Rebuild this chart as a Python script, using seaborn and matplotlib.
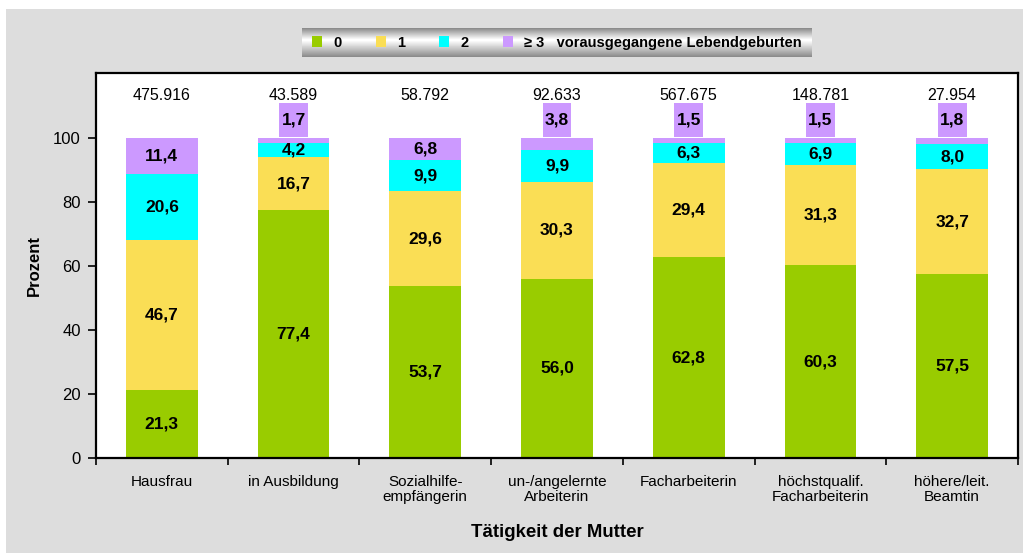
"""
Lebendgeburten nach Taetigkeit der Mutter
- gestapelte Balken (Prozent) mit Fallzahlen oben
"""

import numpy as np
import pandas as pd
import matplotlib.pyplot as plt
import seaborn as sns
from matplotlib.patches import Rectangle, Patch

# Daten
categories = ["Hausfrau", "in Ausbildung", "Sozialhilfe-\nempfängerin",
              "un-/angelernte\nArbeiterin", "Facharbeiterin",
              "höchstqualif.\nFacharbeiterin", "höhere/leit.\nBeamtin"]
totals = ["475.916", "43.589", "58.792", "92.633", "567.675", "148.781", "27.954"]
births_0 = [21.3, 77.4, 53.7, 56.0, 62.8, 60.3, 57.5]
births_1 = [46.7, 16.7, 29.6, 30.3, 29.4, 31.3, 32.7]
births_2 = [20.6, 4.2, 9.9, 9.9, 6.3, 6.9, 8.0]
births_3plus = [11.4, 1.7, 6.8, 3.8, 1.5, 1.5, 1.8]
series_names = ["0", "1", "2", "≥ 3   vorausgegangene Lebendgeburten"]
colors = ["#99CC00", "#FADE55", "#00FFFF", "#CC99FF"]

W, H = 1023, 553

sns.set_style("ticks")
plt.rcParams['font.family'] = ['Liberation Sans', 'DejaVu Sans']
for key in ["text.color", "axes.labelcolor", "xtick.color", "ytick.color"]:
    plt.rcParams[key] = "black"

df = pd.DataFrame({"0": births_0, "1": births_1, "2": births_2, "3": births_3plus},
                  index=categories)
cum = df.cumsum(axis=1)

fig = plt.figure(figsize=(W / 100, H / 100), dpi=100, facecolor="white")
# grauer Hintergrund wie im Original
fig.patches.append(Rectangle((6 / W, 0), 1, (H - 9) / H, transform=fig.transFigure,
                             facecolor="#DDDDDD", edgecolor="none", zorder=-10))

ax = fig.add_axes([96 / W, (H - 458) / H, (1018 - 96) / W, (458 - 73) / H])
ax.set_facecolor("white")

# von oben nach unten zeichnen, damit die Stapel entstehen
for col, color in zip(reversed(df.columns), reversed(colors)):
    plot_df = pd.DataFrame({"cat": categories, "val": cum[col].values})
    sns.barplot(data=plot_df, x="cat", y="val", order=categories, color=color,
                saturation=1, width=0.545, errorbar=None, edgecolor="none",
                linewidth=0, ax=ax)

# Beschriftungen
for j, col in enumerate(df.columns):
    for i, cat in enumerate(categories):
        v = df.loc[cat, col]
        top = cum.loc[cat, col]
        label = f"{v:.1f}".replace(".", ",")
        if col == "3" and v < 5:
            ax.add_patch(Rectangle((i - 0.11, 100.4), 0.22, 10.6,
                                   facecolor=colors[3], edgecolor="none", zorder=3))
            ax.text(i, 105.7, label, ha="center", va="center", fontsize=12.5,
                    fontweight="bold", zorder=4)
        else:
            ax.text(i, top - v / 2, label, ha="center", va="center", fontsize=12.5,
                    fontweight="bold", zorder=4)

for i, t in enumerate(totals):
    ax.text(i, 113.4, t, ha="center", va="center", fontsize=11.5)

ax.set_ylim(0, 120.3)
ax.set_xlim(-0.5, len(categories) - 0.5)
ax.set_yticks(range(0, 101, 20))
ax.set_xticks(range(len(categories)))
ax.set_xticklabels(categories, fontsize=11, linespacing=1.15)
ax.set_xticks(np.arange(-0.5, len(categories), 1), minor=True)
ax.tick_params(axis="x", which="major", length=0, pad=12)
ax.tick_params(axis="x", which="minor", length=5, width=1.2, direction="out")
ax.tick_params(axis="y", length=6, width=1.2, direction="out", labelsize=12, pad=5)

for side in ["left", "bottom", "top", "right"]:
    ax.spines[side].set_visible(True)
    ax.spines[side].set_color("black")
    ax.spines[side].set_linewidth(1.6)

ax.set_xlabel("Tätigkeit der Mutter", fontsize=13.4, fontweight="bold", labelpad=14)
ax.set_ylabel("Prozent", fontsize=12, fontweight="bold", labelpad=8)

# Legende mit grauem Verlauf
lx, ly, lw, lh = 302 / W, (H - 57) / H, (812 - 302) / W, 29 / H
gax = fig.add_axes([lx, ly, lw, lh])
shade = np.concatenate([np.linspace(0.55, 1.0, 12), np.linspace(1.0, 0.55, 17)])
gax.imshow(shade[:, None], cmap="gray", vmin=0, vmax=1, aspect="auto")
gax.axis("off")

handles = [Patch(facecolor=c, edgecolor="none") for c in colors]
fig.legend(handles, series_names, loc="center", bbox_to_anchor=(lx + lw / 2, ly + lh / 2),
           ncol=4, frameon=False, prop={"weight": "bold", "size": 10.5},
           handlelength=0.7, handleheight=0.7, handletextpad=0.8, columnspacing=2.3)

fig.savefig("out.png", dpi=100, facecolor=fig.get_facecolor())
